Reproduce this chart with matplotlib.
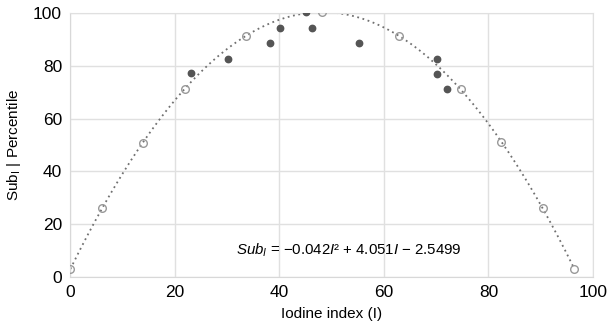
import numpy as np
import matplotlib
matplotlib.use("Agg")
import matplotlib.pyplot as plt

plt.rcParams['font.family'] = ['Liberation Sans', 'DejaVu Sans']
plt.rcParams['mathtext.fontset'] = 'custom'
plt.rcParams['mathtext.rm'] = 'Liberation Sans'
plt.rcParams['mathtext.it'] = 'Liberation Sans:italic'

# Fitted (open) points
fit_x = [0, 6.0, 13.9, 21.9, 33.6, 48.2, 62.8, 74.7, 82.4, 90.5, 96.4]
fit_y = [3.0, 26.0, 50.9, 71.1, 91.4, 100.2, 91.4, 71.2, 51.1, 26.0, 2.9]

# Observed (filled) points
obs_x = [23.0, 30.1, 38.1, 40.1, 45.0, 46.2, 55.2, 70.1, 70.1, 72.1]
obs_y = [77.2, 82.7, 88.6, 94.4, 100.2, 94.4, 88.6, 82.7, 76.9, 71.2]

xticks = [0, 20, 40, 60, 80, 100]
yticks = [0, 20, 40, 60, 80, 100]

fig = plt.figure(figsize=(6.12, 3.31), dpi=100)
ax = fig.add_axes([0.115, 0.163, 0.854, 0.798])

coef = np.polyfit(fit_x, fit_y, 2)
cx = np.linspace(min(fit_x), max(fit_x), 300)
ax.plot(cx, np.polyval(coef, cx), linestyle=(0, (1, 2)), color='#707070', lw=1.3, zorder=2)

ax.plot(fit_x, fit_y, 'o', ms=5.5, mfc='none', mec='#999999', mew=1.0, zorder=3)
ax.plot(obs_x, obs_y, 'o', ms=4.6, color='#555555', mec='#555555', zorder=4)

ax.set_xlim(0, 100)
ax.set_ylim(0, 100)
ax.set_xticks(xticks)
ax.set_yticks(yticks)
ax.grid(True, color='#e0e0e0', lw=1)
ax.set_axisbelow(True)
for s in ax.spines.values():
    s.set_color('#d8d8d8')
ax.spines['top'].set_color('#e0e0e0')
ax.spines['right'].set_color('#e0e0e0')
ax.tick_params(length=0, labelsize=12.5, pad=6, colors='black')
for lab in ax.get_xticklabels() + ax.get_yticklabels():
    lab.set_clip_on(False)

ax.set_xlabel('Iodine index (I)', fontsize=11, labelpad=5)
ax.set_ylabel(r'Sub$_\mathregular{I}$ | Percentile', fontsize=11, labelpad=7)

ax.text(31.6, 10.2, r'$Sub_I$ = −0.042$I$² + 4.051$I$ − 2.5499', fontsize=10.8,
        va='center', ha='left')

fig.savefig('out.png', dpi=100)
